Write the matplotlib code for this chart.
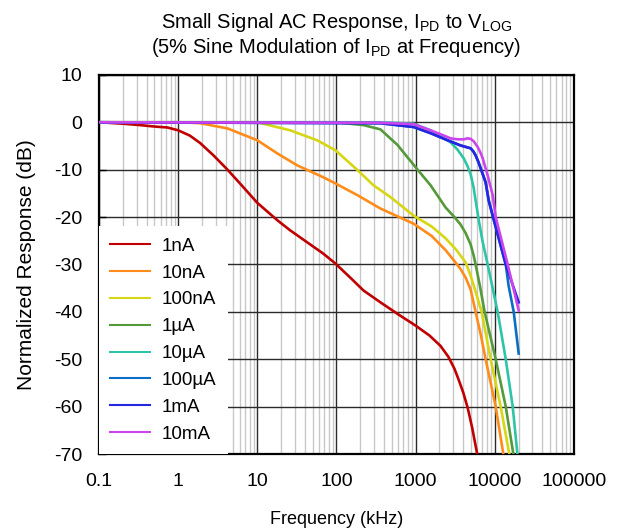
import matplotlib
matplotlib.use('Agg')
import matplotlib.pyplot as plt
from matplotlib.ticker import LogLocator, FixedLocator, NullFormatter

plt.rcParams['font.family'] = ['Liberation Sans', 'DejaVu Sans']
plt.rcParams['mathtext.fontset'] = 'custom'
plt.rcParams['mathtext.rm'] = 'Liberation Sans'
plt.rcParams['axes.unicode_minus'] = False

# frequency in kHz, response in dB
f_1nA = [0.1, 0.2, 0.33, 0.5, 0.73, 1, 1.4, 1.9, 2.8, 4.2, 6.5, 10, 18, 26, 40, 68, 97, 150, 220, 360, 600,
         1000, 1500, 2070, 2600, 3100, 3500, 4000, 4550, 5200, 6090]
db_1nA = [0, -0.3, -0.6, -0.9, -1.1, -1.7, -2.8, -4.4, -7, -10, -13.5, -17, -20.7, -22.8, -25, -27.7, -29.8, -32.8,
          -35.5, -38, -40.5, -42.9, -45, -47.2, -49.5, -52, -54.3, -57, -60.2, -64.5, -70.5]

f_10nA = [0.1, 1, 1.9, 4.2, 10, 18, 32, 68, 97, 185, 360, 944, 1600, 2400, 3100, 3715, 4300, 4970, 5740, 6700,
          7690, 10300, 13000]
db_10nA = [0, 0, -0.2, -1.3, -3.8, -6.6, -9.1, -11.6, -12.9, -15.4, -18.2, -21.4, -24, -27, -29.3, -31, -32.8,
           -35.3, -40, -45, -50, -60, -70.5]

f_100nA = [0.1, 10, 26, 57, 97, 185, 294, 483, 944, 1600, 2400, 3300, 4300, 5000, 5800, 6840, 8900, 11900, 15500]
db_100nA = [0, 0, -1.7, -3.8, -5.9, -10.1, -13.3, -15.8, -19.7, -22, -24.5, -27, -29.6, -32.5, -36, -40, -50,
            -60, -70.5]

f_1uA = [0.1, 97, 220, 360, 592, 1060, 1549, 2400, 3100, 3715, 4300, 4970, 5400, 5740, 6500, 7460, 10300,
         13800, 17400]
db_1uA = [0, 0, -0.6, -1.5, -4.8, -10, -13.3, -18, -20, -21.6, -23.4, -25.8, -28, -30, -34.5, -40, -50, -60, -70.5]

f_10uA = [0.1, 360, 944, 1549, 2000, 2770, 3400, 4055, 4550, 4970, 5420, 5740, 6270, 7000, 8150, 10900, 13800,
          16900, 19500]
db_10uA = [0, 0, -0.3, -1.7, -2.8, -4.2, -5.8, -7.6, -9.3, -11, -13.8, -16.5, -20.5, -25, -30, -40, -50, -60, -70.5]

f_100uA = [0.1, 360, 944, 1549, 2540, 3715, 4300, 4970, 5400, 5740, 6200, 6650, 7690, 8400, 9710, 13800, 15000,
           17400, 20100]
db_100uA = [0, -0.2, -1, -2.3, -3.8, -4.9, -5.2, -5.5, -6.2, -7, -8.3, -9.7, -12.7, -16.5, -20.5, -30, -34.5,
            -40, -48.8]

f_1mA = [0.1, 360, 944, 1549, 2540, 3715, 4300, 4970, 5400, 5740, 6200, 6650, 7690, 8400, 9710, 13800, 20100]
db_1mA = [0, -0.2, -1, -2.3, -3.8, -4.9, -5.2, -5.5, -6.2, -7, -8.3, -9.7, -12.7, -16.5, -20.5, -30, -38]

f_10mA = [0.1, 360, 944, 1549, 2200, 2770, 3400, 4055, 4550, 4970, 5420, 6090, 6650, 7050, 8150, 9440, 10300,
          14600, 20100]
db_10mA = [0, -0.1, -0.4, -1.7, -2.7, -3.4, -3.6, -3.6, -3.4, -3.5, -4, -5.2, -6.5, -7.6, -11.2, -15.4, -20,
           -30, -39.7]

labels = ['1nA', '10nA', '100nA', '1µA', '10µA', '100µA', '1mA', '10mA']
colors = ['#c00000', '#ff8c1a', '#d6d614', '#559a3a', '#2ec4a6', '#0a6fc4', '#2626e0', '#cc44ee']
freqs = [f_1nA, f_10nA, f_100nA, f_1uA, f_10uA, f_100uA, f_1mA, f_10mA]
resp = [db_1nA, db_10nA, db_100nA, db_1uA, db_10uA, db_100uA, db_1mA, db_10mA]

x_ticks = [0.1, 1, 10, 100, 1000, 10000, 100000]
x_ticklabels = ['0.1', '1', '10', '100', '1000', '10000', '100000']
y_ticks = list(range(-70, 11, 10))

fig = plt.figure(figsize=(6.19, 5.31), dpi=100)
ax = fig.add_axes([0.160, 0.145, 0.767, 0.714])

for f, r, c, lab in zip(freqs, resp, colors, labels):
    ax.plot(f, r, color=c, lw=1.9, label=lab, zorder=3, solid_joinstyle='round')

ax.set_xscale('log')
ax.set_xlim(0.1, 100000)
ax.set_ylim(-70, 10)
ax.xaxis.set_major_locator(FixedLocator(x_ticks))
ax.set_xticklabels(x_ticklabels)
ax.xaxis.set_minor_locator(LogLocator(base=10, subs=range(2, 10), numticks=20))
ax.xaxis.set_minor_formatter(NullFormatter())
ax.set_yticks(y_ticks)

ax.grid(True, which='minor', axis='x', color='#c8c8c8', lw=1.0, zorder=0)
ax.grid(True, which='major', axis='both', color='#2a2a2a', lw=1.0, zorder=1)
ax.tick_params(which='both', direction='in', labelsize=14, length=0)
ax.tick_params(axis='x', pad=14)
ax.tick_params(axis='y', length=5, width=1, pad=12)
for s in ax.spines.values():
    s.set_linewidth(1.6)
    s.set_color('black')

ax.set_xlabel('Frequency (kHz)', fontsize=13, labelpad=15)
ax.set_ylabel('Normalized Response (dB)', fontsize=15, labelpad=13)
ax.set_title('Small Signal AC Response, $\\mathregular{I_{PD}}$ to $\\mathregular{V_{LOG}}$\n'
             '(5% Sine Modulation of $\\mathregular{I_{PD}}$ at Frequency)', fontsize=14.5, pad=16,
             linespacing=1.1)

leg = ax.legend(loc='lower left', fontsize=13.5, frameon=True, fancybox=False, borderaxespad=0,
                handlelength=2.1, handletextpad=0.65, labelspacing=0.52, borderpad=0.6)
leg.get_frame().set_edgecolor('none')
leg.get_frame().set_facecolor('white')
leg.get_frame().set_alpha(1)
for line in leg.get_lines():
    line.set_linewidth(1.5)

fig.savefig('out.png', dpi=100)
